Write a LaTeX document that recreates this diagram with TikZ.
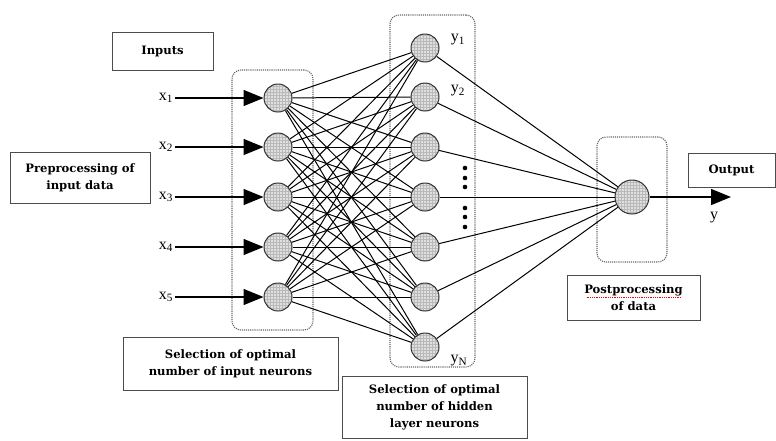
\documentclass[tikz,border=0pt]{standalone}
\usepackage{fontspec}
\setmainfont{Liberation Serif}
\newfontfamily\boxfont{DejaVu Serif}
\usetikzlibrary{arrows.meta,patterns}

\begin{document}
\begin{tikzpicture}[
    x=1pt, y=-1pt,
    neuron/.style={circle, draw=black!80, line width=1pt, minimum size=28pt, inner sep=0pt, preaction={fill=gray!25}, pattern=grid, pattern color=gray!55},
    selbox/.style={draw=black!60, densely dotted, line width=1.1pt, rounded corners=9pt, inner sep=0pt},
    txtbox/.style={draw=black!70, line width=0.8pt, align=center, inner sep=0pt, font=\boxfont\bfseries\fontsize{11.6}{17}\selectfont},
    lab/.style={font=\fontsize{16}{16}\selectfont, inner sep=2pt},
    link/.style={line width=1pt},
    arrow/.style={-{Triangle[length=20pt, width=16pt]}, line width=1.4pt}
]
\useasboundingbox (0,0) rectangle (776,440);

% Selection boxes
\node[selbox, minimum width=81pt, minimum height=260pt] (inbox) at (272.5,200) {};
\node[selbox, minimum width=85pt, minimum height=352pt] (hidbox) at (432.5,191) {};
\node[selbox, minimum width=70pt, minimum height=125pt] (outbox) at (632,199.5) {};

% Neurons
\foreach \i/\y in {1/98,2/147,3/197,4/247,5/297}
    \node[neuron] (i\i) at (278,\y) {};
\foreach \j/\y in {1/48,2/97,3/147,4/197,5/247,6/297,7/347}
    \node[neuron] (h\j) at (425,\y) {};
\node[neuron, minimum size=34pt] (o) at (632,197) {};

% Connections
\foreach \i in {1,...,5}
    \foreach \j in {1,...,7}
        \draw[link] (i\i) -- (h\j);
\foreach \j in {1,...,7}
    \draw[link] (h\j) -- (o);

% Inputs
\foreach \i/\y in {1/98,2/147,3/197,4/247,5/297} {
    \node[lab] (x\i) at (166,\y) {x\textsubscript{\i}};
    \draw[arrow] (x\i.east) -- (i\i);
}

% Hidden labels and dots
\node[lab] (y1) at (458,40) {y\textsubscript{1}};
\node[lab] (y2) at (458,91) {y\textsubscript{2}};
\node[lab] (yN) at (459,361) {y\textsubscript{N}};
\foreach \d in {168,178,187,208,217,227}
    \fill (465,\d) circle (2.3pt);

% Output
\coordinate (yend) at (731,197);
\draw[arrow] (o) -- (yend);
\node[lab] (yout) at (714,218) {y};

% Text boxes
\node[txtbox, minimum width=101pt, minimum height=38pt] (inputs) at (162.5,51) {Inputs};
\node[txtbox, minimum width=140pt, minimum height=51pt] (pre) at (80,177.5) {Preprocessing of\\input data};
\node[txtbox, minimum width=215pt, minimum height=53pt] (selin) at (230.5,363.5) {Selection of optimal\\number of input neurons};
\node[txtbox, minimum width=185pt, minimum height=62pt] (selhid) at (434.5,407) {Selection of optimal\\number of hidden\\layer neurons};
\node[txtbox, minimum width=133pt, minimum height=45pt] (post) at (633.5,297.5) {Postprocessing\\of data};
\node[txtbox, minimum width=87pt, minimum height=34pt] (output) at (731.5,170) {Output};
\draw[red, densely dotted, line width=0.8pt] ([xshift=-47pt,yshift=0.5pt]post.center) -- ([xshift=47pt,yshift=0.5pt]post.center);

\end{tikzpicture}
\end{document}
